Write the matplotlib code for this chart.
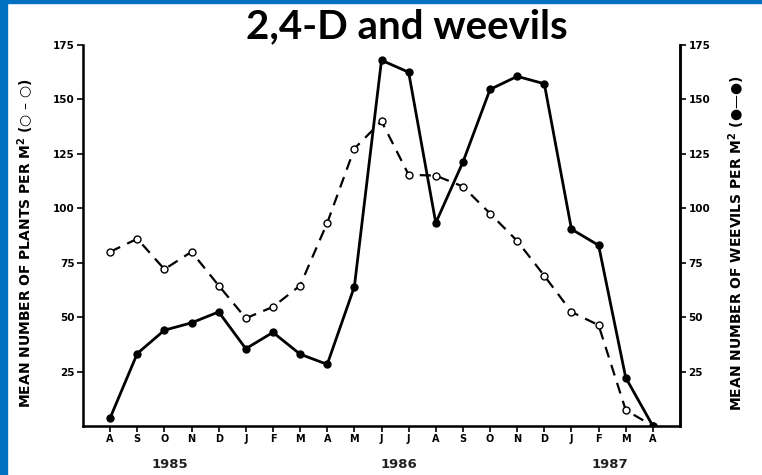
import matplotlib.pyplot as plt
from matplotlib.patches import Rectangle

# months Aug 1985 .. Aug 1987
months = ["A", "S", "O", "N", "D", "J", "F", "M", "A", "M", "J",
          "J", "A", "S", "O", "N", "D", "J", "F", "M", "A"]
plants = [80, 86, 72, 80, 64.5, 49.5, 54.7, 64.5, 93.3, 127.4, 140,
          115.4, 115, 110, 97.6, 85, 69, 52.4, 46.3, 7.3, 0]
weevils = [3.7, 33.3, 44, 47.4, 52.4, 35.5, 43, 33, 28.3, 64, 168,
           162.5, 93.3, 121.2, 154.6, 160.6, 157.2, 90.4, 83, 22.2, 0]
years = ["1985", "1986", "1987"]
year_pos = [2.2, 10.65, 18.4]
yticks = [25, 50, 75, 100, 125, 150, 175]

x = list(range(len(months)))

fig = plt.figure(figsize=(7.62, 4.75), dpi=100)
fig.patch.set_facecolor("white")
# blue frame pieces on the left and top
fig.patches.append(Rectangle((0, 0), 7 / 762, 1, transform=fig.transFigure,
                             color="#0070C0", zorder=0))
fig.patches.append(Rectangle((0, 1 - 3 / 475), 1, 3 / 475, transform=fig.transFigure,
                             color="#0070C0", zorder=0))

ax = fig.add_axes([83 / 762, 49 / 475, 597 / 762, 381 / 475])
ax.plot(x, plants, linestyle=(0, (5, 3.5)), color="black", lw=1.6,
        marker="o", markersize=5, markerfacecolor="white", markeredgewidth=1)
ax.plot(x, weevils, linestyle="solid", color="black", lw=2,
        marker="o", markersize=5, markerfacecolor="black")

ax.set_xlim(-1, 21)
ax.set_ylim(0, 175)
ax.spines["top"].set_visible(False)
for s in ["left", "right", "bottom"]:
    ax.spines[s].set_linewidth(1.8)

ax.set_xticks(x)
ax.set_xticklabels(months, fontsize=7, fontweight="bold")
ax.set_yticks(yticks)
ax.set_yticklabels([str(v) for v in yticks], fontsize=7.5, fontweight="bold")
ax.tick_params(axis="both", direction="out", length=4, width=1.2, pad=2)

ax2 = ax.twinx()
ax2.set_ylim(0, 175)
ax2.spines["top"].set_visible(False)
ax2.spines["right"].set_linewidth(1.8)
ax2.set_yticks(yticks)
ax2.set_yticklabels([str(v) for v in yticks], fontsize=7.5, fontweight="bold")
ax2.tick_params(axis="y", direction="out", length=4, width=1.2, pad=2)

for yr, p in zip(years, year_pos):
    ax.text(p, -0.085, yr, transform=ax.get_xaxis_transform(), ha="center",
            va="top", fontsize=9.5, fontweight="bold", color="#222222")

ax.set_ylabel("MEAN NUMBER OF PLANTS PER M$^{\\mathbf{2}}$ (○ – ○)",
              fontsize=10, fontweight="bold")
ax.yaxis.set_label_coords(-0.078, 0.48)
ax2.set_ylabel("MEAN NUMBER OF WEEVILS PER M$^{\\mathbf{2}}$ (●—●)",
               fontsize=10, fontweight="bold", rotation=90)
ax2.yaxis.set_label_coords(1.077, 0.48)

fig.text(0.534, 1 - 38 / 475, "2,4-D and weevils", ha="center", va="baseline",
         fontsize=29, fontweight="bold", family="Lato")

fig.savefig("out.png", dpi=100)
